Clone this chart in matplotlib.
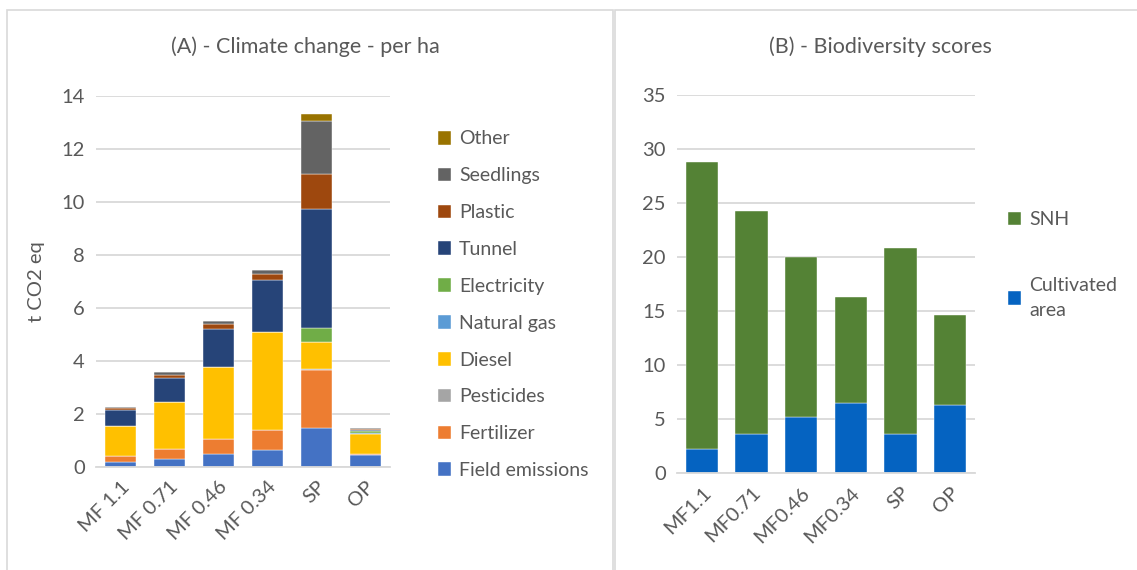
import numpy as np
import matplotlib
matplotlib.use("Agg")
import matplotlib.pyplot as plt
from matplotlib.patches import Rectangle

plt.rcParams['font.family'] = ['Lato', 'DejaVu Sans']

# --- Data: (A) climate change per ha, t CO2 eq ---
systems_a = ['MF 1.1', 'MF 0.71', 'MF 0.46', 'MF 0.34', 'SP', 'OP']
field_emissions = [0.19, 0.31, 0.48, 0.64, 1.49, 0.47]
fertilizer = [0.22, 0.36, 0.56, 0.75, 2.17, 0.01]
pesticides = [0.02, 0.02, 0.02, 0.02, 0.02, 0.01]
diesel = [1.12, 1.75, 2.70, 3.67, 1.03, 0.77]
natural_gas = [0.0, 0.0, 0.0, 0.0, 0.0, 0.03]
electricity = [0.0, 0.0, 0.0, 0.0, 0.54, 0.08]
tunnel = [0.60, 0.93, 1.45, 1.99, 4.50, 0.02]
plastic = [0.07, 0.12, 0.19, 0.22, 1.30, 0.03]
seedlings = [0.05, 0.08, 0.10, 0.15, 2.00, 0.05]
other = [0.0, 0.0, 0.0, 0.0, 0.26, 0.0]

# --- Data: (B) biodiversity scores ---
systems_b = ['MF1.1', 'MF0.71', 'MF0.46', 'MF0.34', 'SP', 'OP']
cultivated_area = [2.2, 3.6, 5.2, 6.5, 3.6, 6.3]
snh = [26.6, 20.7, 14.8, 9.8, 17.2, 8.3]

series_a = [
    ('Field emissions', field_emissions, '#4472C4'),
    ('Fertilizer', fertilizer, '#ED7D31'),
    ('Pesticides', pesticides, '#A5A5A5'),
    ('Diesel', diesel, '#FFC000'),
    ('Natural gas', natural_gas, '#5B9BD5'),
    ('Electricity', electricity, '#70AD47'),
    ('Tunnel', tunnel, '#264478'),
    ('Plastic', plastic, '#9E480E'),
    ('Seedlings', seedlings, '#636363'),
    ('Other', other, '#997300'),
]

W, H = 1137, 570
fig = plt.figure(figsize=(W / 100, H / 100), dpi=100)
txt = '#595959'
grid = '#D9D9D9'

# panel frames
fig.patches.append(Rectangle((7 / W, -0.1), 606 / W, 1.1 - 10 / H, transform=fig.transFigure,
                             fill=False, edgecolor=grid, linewidth=1.2))
fig.patches.append(Rectangle((615 / W, -0.1), 600 / W, 1.1 - 10 / H, transform=fig.transFigure,
                             fill=False, edgecolor=grid, linewidth=1.2))


def style_axis(ax):
    for s in ['top', 'right', 'left']:
        ax.spines[s].set_visible(False)
    ax.spines['bottom'].set_color(grid)
    ax.spines['bottom'].set_linewidth(1.3)
    ax.yaxis.grid(True, color=grid, linewidth=1.3)
    ax.set_axisbelow(True)
    ax.tick_params(axis='both', length=0, labelsize=14.5, colors=txt, pad=8)


# ---------- (A) ----------
axA = fig.add_axes([96 / W, 1 - 467 / H, 294 / W, 371 / H])
x = np.arange(len(systems_a))
bottom = np.zeros(len(systems_a))
handles = []
for name, vals, col in series_a:
    b = axA.bar(x, vals, 0.65, bottom=bottom, color=col, edgecolor='white', linewidth=0.3, label=name)
    bottom += np.array(vals)
    handles.append(b)
axA.set_ylim(0, 14)
axA.set_xlim(-0.5, 5.5)
axA.set_yticks(range(0, 15, 2))
axA.set_xticks(x)
axA.set_xticklabels(systems_a, rotation=45, ha='right', rotation_mode='anchor')
style_axis(axA)
axA.set_ylabel('t CO2 eq', fontsize=14.5, color=txt, labelpad=12)
fig.text(305 / W, 1 - 47 / H, '(A) - Climate change - per ha', ha='center', va='center',
         fontsize=15.5, color=txt)
leg = fig.legend(handles[::-1], [s[0] for s in series_a][::-1], loc='upper left',
                 bbox_to_anchor=(420 / W, 1 - 113 / H), frameon=False, fontsize=14,
                 labelcolor=txt, handlelength=0.7, handleheight=0.7, handletextpad=0.4,
                 labelspacing=1.02)

# ---------- (B) ----------
axB = fig.add_axes([677 / W, 1 - 473 / H, 298 / W, 378 / H])
xb = np.arange(len(systems_b))
bc = axB.bar(xb, cultivated_area, 0.645, color='#0563C1', edgecolor='white', linewidth=0.3)
bs = axB.bar(xb, snh, 0.645, bottom=cultivated_area, color='#548235', edgecolor='white', linewidth=0.3)
axB.set_ylim(0, 35)
axB.set_xlim(-0.5, 5.5)
axB.set_yticks(range(0, 36, 5))
axB.set_xticks(xb)
axB.set_xticklabels(systems_b, rotation=45, ha='right', rotation_mode='anchor')
style_axis(axB)
fig.text(880 / W, 1 - 47 / H, '(B) - Biodiversity scores', ha='center', va='center',
         fontsize=15.5, color=txt)
legB = fig.legend([bs, bc], ['SNH', 'Cultivated\narea'], loc='upper left',
                  bbox_to_anchor=(990 / W, 1 - 194 / H), frameon=False, fontsize=14,
                  labelcolor=txt, handlelength=0.7, handleheight=0.7, handletextpad=0.4,
                  labelspacing=2.5)
for t in legB.get_texts():
    t.set_linespacing(1.55)

fig.savefig('out.png', dpi=100)
